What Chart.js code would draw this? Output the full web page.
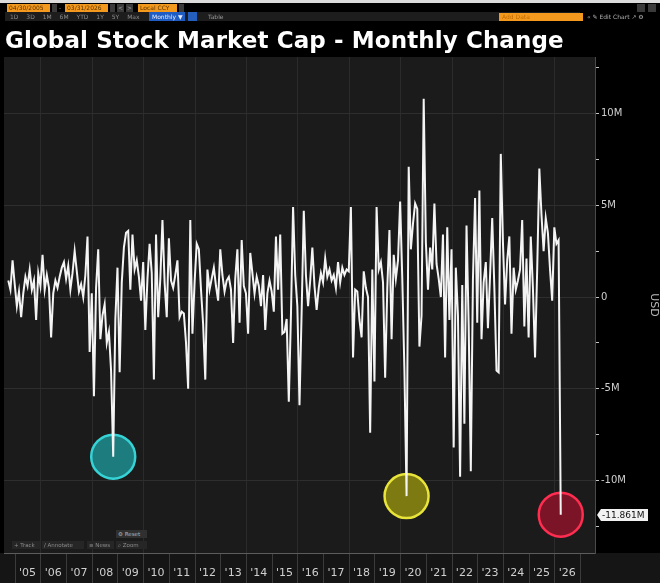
<!DOCTYPE html>
<html>
<head>
<meta charset="utf-8">
<script src="https://cdn.jsdelivr.net/npm/chart.js@4.4.1/dist/chart.umd.min.js"></script>
<style>
  html, body { margin: 0; padding: 0; background: #000; }
  body { width: 660px; height: 583px; position: relative; overflow: hidden; font-family: "DejaVu Sans", sans-serif; }
  #chart { position: absolute; left: 0; top: 0; }
  .abs { position: absolute; white-space: nowrap; box-sizing: border-box; }
  .org { background: #f39a1e; color: #5a3300; font-size: 6px; line-height: 8px; height: 8px; padding-left: 2px; }
  .gry { background: #3a3a3a; color: #aaa; font-size: 6px; line-height: 8px; height: 8px; text-align: center; }
  .tb { color: #8c8c8c; font-size: 6px; line-height: 9px; }
  .chip { background: #262626; color: #8a8a8a; font-size: 5.5px; line-height: 8px; height: 8px; padding: 0 2px; }
  #title { left: 5px; top: 29px; color: #fff; font: bold 23px/23px "DejaVu Sans", sans-serif; letter-spacing: 0.1px; }
</style>
</head>
<body>
<canvas id="chart" width="660" height="583"></canvas>

<div class="abs" style="left:0;top:0;width:660px;height:3px;background:#dcdcdc"></div>
<div class="abs org" style="left:7px;top:4px;width:43px">04/30/2005</div>
<div class="abs gry" style="left:52px;top:4px;width:5px"></div>
<div class="abs tb" style="left:59px;top:3px">-</div>
<div class="abs org" style="left:65px;top:4px;width:43px">03/31/2026</div>
<div class="abs gry" style="left:110px;top:4px;width:5px"></div>
<div class="abs gry" style="left:117px;top:4px;width:7px">&lt;</div>
<div class="abs gry" style="left:126px;top:4px;width:7px">&gt;</div>
<div class="abs org" style="left:138px;top:4px;width:39px">Local CCY</div>
<div class="abs gry" style="left:179px;top:4px;width:5px"></div>
<div class="abs gry" style="left:637px;top:4px;width:8px"></div>
<div class="abs gry" style="left:648px;top:4px;width:8px"></div>

<div class="abs" style="left:5px;top:12px;width:575px;height:9px;background:#1d1d1d"></div>
<div class="abs tb" style="left:10px;top:12px;word-spacing:6px">1D 3D 1M 6M YTD 1Y 5Y Max</div>
<div class="abs" style="left:149px;top:12px;width:36px;height:9px;background:#1f5cc4;color:#e8eefc;font-size:6px;line-height:9px;padding-left:3px">Monthly &#9660;</div>
<div class="abs" style="left:188px;top:12px;width:9px;height:9px;background:#245fc0"></div>
<div class="abs tb" style="left:208px;top:12px;color:#9a9a9a">Table</div>
<div class="abs" style="left:499px;top:13px;width:84px;height:8px;background:#f39a1e;color:#c06a00;font-size:6px;line-height:8px;padding-left:3px">Add Data</div>
<div class="abs tb" style="left:587px;top:12px;color:#b0b0b0">&#171; &#9998; Edit Chart &#8599; &#9881;</div>

<div id="title" class="abs">Global Stock Market Cap - Monthly Change</div>

<div class="abs chip" style="left:116px;top:530px;width:31px;color:#b5b5b5;background:#303030">&#9881; Reset</div>
<div class="abs chip" style="left:12px;top:541px;width:28px">+ Track</div>
<div class="abs chip" style="left:42px;top:541px;width:42px">&#8725; Annotate</div>
<div class="abs chip" style="left:87px;top:541px;width:27px">&#8801; News</div>
<div class="abs chip" style="left:116px;top:541px;width:31px">&#8981; Zoom</div>

<script>
// monthly change in global market cap, USD millions (month-end points)
const chg2004 = [0.9, 0.4, 2.0, 0.7]; // Sep-Dec
const chg2005 = [-0.5, 0.3, -1.1, 0.2, 1.1, 0.6, 1.5, 0.4, 0.9, -1.25, 1.3, 0.6];
const chg2006 = [2.3, 0.4, 1.2, 0.5, -2.2, 0.2, 0.9, 0.5, 1.1, 1.6, 1.9, 1.0];
const chg2007 = [1.7, 0.4, 1.3, 2.5, 1.4, 0.3, 0.7, 0.0, 1.2, 3.3, -3.0, 0.2];
const chg2008 = [-5.4, 0.5, 2.6, -2.3, -1.0, -0.4, -2.5, -1.9, -4.0, -8.7, -1.2, 1.6];
const chg2009 = [-4.1, 0.8, 2.7, 3.5, 3.6, 0.4, 3.4, 1.5, 2.0, 1.1, -0.2, 1.9];
const chg2010 = [-1.8, 1.0, 2.9, 1.3, -4.5, 3.4, -1.1, 1.0, 4.2, 0.8, -1.1, 3.2];
const chg2011 = [0.9, 0.5, 1.2, 2.0, -1.1, -0.8, -0.9, -2.5, -5.0, 4.2, -2.0, 0.8];
const chg2012 = [2.9, 2.6, 0.4, -1.5, -4.5, 1.5, 0.4, 1.0, 1.6, 0.6, -0.2, 2.6];
const chg2013 = [1.2, 0.3, 0.9, 1.1, 0.4, -2.5, 1.0, 2.6, -1.4, 3.1, 0.6, 0.2];
const chg2014 = [-2.0, 2.4, 1.3, 0.2, 1.1, 0.6, -0.5, 1.2, -1.8, 0.2, 0.9, 0.3];
const chg2015 = [-0.8, 3.3, 0.4, 3.4, -2.0, -1.9, -1.2, -5.7, -1.0, 4.9, 1.2, -0.5];
const chg2016 = [-5.9, -0.8, 4.7, 1.2, -0.5, 0.9, 2.7, 0.6, -0.7, 0.5, 1.3, 0.8];
const chg2017 = [2.1, 1.1, 1.5, 0.9, 1.2, 0.5, 1.9, 0.8, 1.6, 1.2, 1.5, 1.4];
const chg2018 = [4.9, -3.3, 0.4, 0.3, -1.25, -2.2, 1.4, 0.5, 0.0, -7.4, 1.5, -4.6];
const chg2019 = [4.9, 1.5, 1.9, 0.8, -4.4, 0.5, 3.65, -2.3, 2.3, 1.0, 2.0, 5.2];
const chg2020 = [1.0, -4.0, -10.85, 7.1, 2.6, 4.0, 5.1, 4.8, -2.7, -1.0, 10.8, 3.0];
const chg2021 = [0.4, 2.7, 1.5, 5.1, 1.8, 1.0, 0.0, 3.4, -3.3, 3.8, -1.25, 2.6];
const chg2022 = [-8.2, 1.6, -1.0, -9.8, 0.65, -6.9, 3.9, -1.5, -9.5, 1.0, 5.4, -1.4];
const chg2023 = [5.8, -2.3, 0.8, 1.9, -1.7, 1.2, 4.3, 0.5, -4.0, -4.1, 7.8, 3.0];
const chg2024 = [-0.4, 2.0, 3.3, -2.0, 1.6, 0.4, 0.9, 1.5, 4.2, -1.6, 2.1, -2.2];
const chg2025 = [3.3, 0.5, -3.3, 1.5, 7.0, 4.5, 2.5, 4.3, 3.5, 1.5, -0.2, 3.8];
const chg2026 = [2.9, 3.1, -11.861]; // Jan-Mar

const yearTicks = ["'05", "'06", "'07", "'08", "'09", "'10", "'11", "'12", "'13", "'14", "'15",
                   "'16", "'17", "'18", "'19", "'20", "'21", "'22", "'23", "'24", "'25", "'26"];
const yTicks = [-12.5, -10, -7.5, -5, -2.5, 0, 2.5, 5, 7.5, 10, 12.5];
const markerMonths = ['2008-10', '2020-03', '2026-03'];
const markerFill = ['#1d7c7e', '#7d7a12', '#7c1428'];
const markerEdge = ['#36d3d6', '#e9e43a', '#ff2d50'];

// categories: month ends Jul 2004 .. Jul 2027
const months = [];
for (let t = 2004 * 12 + 6; t <= 2027 * 12 + 6; t++) {
  const y = Math.floor(t / 12), m = t % 12 + 1;
  months.push(y + '-' + String(m).padStart(2, '0'));
}
const series = [null, null].concat(chg2004, chg2005, chg2006, chg2007, chg2008, chg2009, chg2010,
  chg2011, chg2012, chg2013, chg2014, chg2015, chg2016, chg2017, chg2018, chg2019, chg2020,
  chg2021, chg2022, chg2023, chg2024, chg2025, chg2026);
while (series.length < months.length) series.push(null);
const markers = months.map((k, i) => markerMonths.includes(k) ? series[i] : null);
const lastIdx = months.indexOf('2026-03');

const monthOf = i => +months[i].slice(5);
const yearOf = i => +months[i].slice(0, 4);

Chart.defaults.font.family = '"DejaVu Sans", sans-serif';

const chrome = {
  id: 'chrome',
  beforeDraw(chart) {
    const { ctx, chartArea: a, scales: { x } } = chart;
    ctx.save();
    ctx.fillStyle = '#1b1b1b';
    ctx.fillRect(a.left, a.top, a.right - a.left, a.bottom - a.top);
    ctx.fillStyle = '#151515';
    ctx.fillRect(0, a.bottom, chart.width, chart.height - a.bottom);
    ctx.lineWidth = 1;
    months.forEach((k, i) => {
      if (monthOf(i) !== 12) return;
      const px = Math.round(x.getPixelForValue(i)) + 0.5;
      // year separators in the date band
      ctx.strokeStyle = '#3b3b3b';
      ctx.beginPath();
      ctx.moveTo(px, a.bottom);
      ctx.lineTo(px, chart.height);
      ctx.stroke();
      // faint grid every second year inside the plot
      if (yearOf(i) % 2 === 1) {
        ctx.strokeStyle = '#2b2b2b';
        ctx.beginPath();
        ctx.moveTo(px, a.top);
        ctx.lineTo(px, a.bottom);
        ctx.stroke();
      }
    });
    ctx.restore();
  },
  afterDraw(chart) {
    const { ctx, chartArea: a, scales: { y } } = chart;
    const py = Math.round(y.getPixelForValue(series[lastIdx]));
    const x0 = a.right + 2, x1 = x0 + 4, x2 = x0 + 51;
    ctx.save();
    ctx.fillStyle = '#f2f2f2';
    ctx.beginPath();
    ctx.moveTo(x0, py);
    ctx.lineTo(x1, py - 6);
    ctx.lineTo(x2, py - 6);
    ctx.lineTo(x2, py + 6);
    ctx.lineTo(x1, py + 6);
    ctx.closePath();
    ctx.fill();
    ctx.fillStyle = '#111';
    ctx.font = '9px "DejaVu Sans"';
    ctx.textBaseline = 'middle';
    ctx.fillText(series[lastIdx].toFixed(3) + 'M', x1 + 1, py + 0.5);
    ctx.restore();
  }
};

new Chart(document.getElementById('chart'), {
  type: 'line',
  data: {
    labels: months,
    datasets: [{
      data: series,
      borderColor: '#f4f4f4',
      borderWidth: 2,
      pointRadius: 0,
      tension: 0,
      spanGaps: false,
      order: 1
    }, {
      data: markers,
      showLine: false,
      pointRadius: 22,
      pointBorderWidth: 2.5,
      pointBackgroundColor: ctx => markerFill[markerMonths.indexOf(months[ctx.dataIndex])] || 'transparent',
      pointBorderColor: ctx => markerEdge[markerMonths.indexOf(months[ctx.dataIndex])] || 'transparent',
      order: 2
    }]
  },
  options: {
    responsive: false,
    animation: false,
    devicePixelRatio: 1,
    layout: { autoPadding: false, padding: { left: 4, top: 57, right: 0, bottom: 0 } },
    plugins: { legend: { display: false }, tooltip: { enabled: false } },
    scales: {
      x: {
        afterFit(s) { s.height = 30; s.paddingLeft = 0; s.paddingRight = 0; },
        ticks: {
          autoSkip: false,
          maxRotation: 0,
          color: '#cfcfcf',
          font: { size: 11 },
          padding: 14,
          callback(v, i) {
            return monthOf(i) === 6 ? (yearTicks[yearOf(i) - 2005] || '') : null;
          }
        },
        grid: { display: true, drawOnChartArea: false, drawTicks: false, color: 'transparent' },
        border: { display: true, color: '#5c5c5c' }
      },
      y: {
        position: 'right',
        min: -13.95,
        max: 13.08,
        afterFit(s) { s.width = 65; s.paddingTop = 0; s.paddingBottom = 0; },
        afterBuildTicks(s) { s.ticks = yTicks.map(v => ({ value: v })); },
        ticks: {
          color: '#cfcfcf',
          font: { size: 10 },
          padding: 2,
          callback: v => v % 5 === 0 ? (v === 0 ? '0' : v + 'M') : ''
        },
        grid: {
          color: ctx => ctx.tick && ctx.tick.value % 5 === 0 ? '#2e2e2e' : 'transparent',
          tickColor: '#c4c4c4',
          tickLength: 4
        },
        border: { color: '#4a4a4a' },
        title: { display: true, text: 'USD', color: '#bdbdbd', font: { size: 11 }, padding: { top: 0, bottom: 4 } }
      }
    }
  },
  plugins: [chrome]
});
</script>
</body>
</html>
